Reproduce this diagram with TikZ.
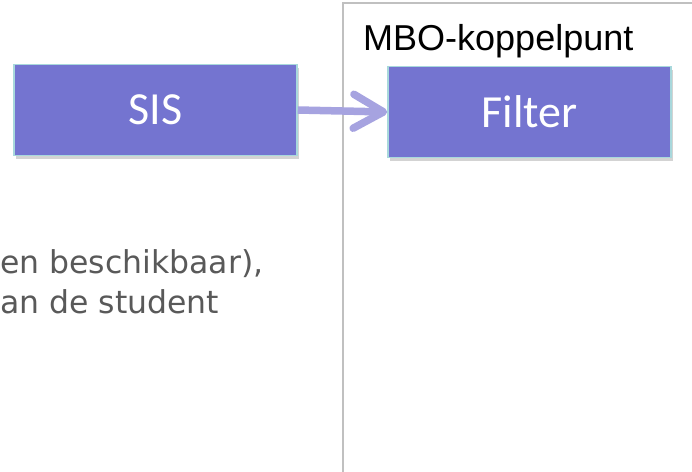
\documentclass[tikz,border=0pt]{standalone}
\usepackage{fontspec}
\usepackage{tikz}
\usetikzlibrary{arrows.meta,shadows}
\newfontfamily\calibrifont{Carlito}
\newfontfamily\arialfont{Liberation Sans}
\newfontfamily\verdanafont{DejaVu Sans}
\definecolor{blokpaars}{RGB}{116,116,208}
\definecolor{blokrand}{RGB}{168,216,220}
\definecolor{pijlpaars}{RGB}{166,163,224}
\definecolor{kadergrijs}{RGB}{192,192,192}
\definecolor{tekstgrijs}{RGB}{89,89,89}
\tikzset{
	blok/.style={draw=blokrand, line width=1.5pt, fill=blokpaars, text=white,
		minimum width=283pt, minimum height=91pt, inner sep=0pt,
		font=\calibrifont\fontsize{46}{55}\selectfont,
		drop shadow={shadow xshift=2pt, shadow yshift=-3pt, opacity=0.35}},
	regel/.style={anchor=base west, inner sep=0pt, text=tekstgrijs,
		font=\verdanafont\fontsize{31.5}{38}\selectfont}
}

\begin{document}
\begin{tikzpicture}[x=1pt, y=-1pt]
		%%%%% START %%%%%
		
		\useasboundingbox (0, 0) rectangle (692, 471);
		
		% kader van het koppelpunt
		\draw[line width=2pt, color=kadergrijs] (343, 475) |- (696, 3);
		\node[anchor=base west, inner sep=0pt, font=\arialfont\fontsize{36}{43}\selectfont] (kop) at (363, 50) {MBO-koppelpunt};
		
		\node[blok] (sis) at (155.5, 110) {SIS};
		\node[blok] (filter) at (529.5, 112) {Filter};
		
		\draw[line width=7.5pt, color=pijlpaars, -{Straight Barb[length=30pt, width=34pt, round]}] (sis.east) -- (filter.west);
		
		\node[regel] (regel1) at (0, 273) {en beschikbaar),};
		\node[regel] (regel2) at (0, 313) {an de student};
		
		%%%%% END %%%%%
	\end{tikzpicture}
\end{document}
